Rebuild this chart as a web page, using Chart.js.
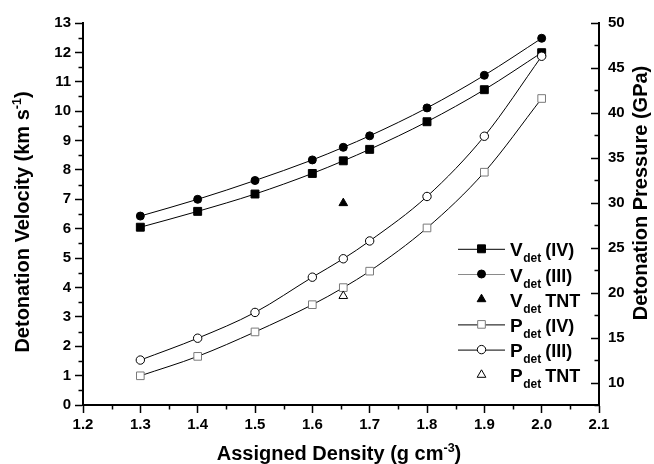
<!DOCTYPE html>
<html>
<head>
<meta charset="utf-8">
<script src="https://cdn.jsdelivr.net/npm/chart.js@4.4.0/dist/chart.umd.min.js"></script>
<style>
  html, body { margin: 0; padding: 0; background: #fff; }
  #wrap { width: 654px; height: 464px; position: relative; }
</style>
</head>
<body>
<div id="wrap"><canvas id="chart"></canvas></div>
<script>
/* values */
const density = [1.3, 1.4, 1.5, 1.6, 1.654, 1.7, 1.8, 1.9, 2.0];
const vdetIV = [6.05, 6.59, 7.18, 7.88, 8.31, 8.70, 9.64, 10.73, 11.99];
const vdetIII = [6.43, 7.0, 7.64, 8.34, 8.77, 9.16, 10.11, 11.22, 12.48];
const pdetIV = [10.75, 12.91, 15.63, 18.66, 20.56, 22.39, 27.2, 33.4, 41.6];
const pdetIII = [12.5, 14.93, 17.8, 21.72, 23.77, 25.75, 30.7, 37.4, 46.3];
const tntDensity = [1.654];
const vdetTNT = [6.87];
const pdetTNT = [19.63];

/* legend texts: letter, subscript, rest */
const legendLabels = [
  ['V', 'det', '(IV)'],
  ['V', 'det', '(III)'],
  ['V', 'det', 'TNT'],
  ['P', 'det', '(IV)'],
  ['P', 'det', '(III)'],
  ['P', 'det', 'TNT']
];

const family = '"Liberation Sans", Arial, Helvetica, sans-serif';
Chart.defaults.font.family = family;
Chart.defaults.font.weight = 'bold';
Chart.defaults.color = '#000';

function pts(xs, ys) {
  return xs.map((x, i) => ({ x, y: ys[i] }));
}

const isMajor = (v, step) => Math.abs(v / step - Math.round(v / step)) < 1e-6;

/* one style per series, reused by the legend */
const styles = [
  { point: 'rect', r: 5.6, fill: '#000', stroke: '#000', line: '#000' },
  { point: 'circle', r: 4, fill: '#000', stroke: '#000', line: '#8a8a8a' },
  { point: 'triangle', r: 5, fill: '#000', stroke: '#000', line: null },
  { point: 'rect', r: 5.4, fill: '#fff', stroke: '#7a7a7a', line: '#000' },
  { point: 'circle', r: 4.2, fill: '#fff', stroke: '#000', line: '#000' },
  { point: 'triangle', r: 5, fill: '#fff', stroke: '#000', line: null }
];

function ds(label, data, axis, s, showLine, order) {
  return {
    label, data, yAxisID: axis, order,
    showLine,
    borderColor: '#000',
    borderWidth: 1,
    cubicInterpolationMode: 'monotone',
    pointStyle: s.point,
    pointRadius: s.r,
    pointHoverRadius: s.r,
    pointBackgroundColor: s.fill,
    pointBorderColor: s.stroke,
    pointBorderWidth: 1
  };
}

function drawMarker(ctx, s, x, y) {
  ctx.save();
  ctx.fillStyle = s.fill;
  ctx.strokeStyle = s.stroke;
  ctx.lineWidth = 1;
  ctx.beginPath();
  if (s.point === 'circle') {
    ctx.arc(x, y, s.r, 0, Math.PI * 2);
  } else if (s.point === 'rect') {
    const h = s.r * Math.SQRT1_2;
    ctx.rect(x - h, y - h, 2 * h, 2 * h);
  } else {
    for (let k = 0; k < 3; k++) {
      const a = k * 2 * Math.PI / 3;
      const px = x + Math.sin(a) * s.r, py = y - Math.cos(a) * s.r;
      k ? ctx.lineTo(px, py) : ctx.moveTo(px, py);
    }
    ctx.closePath();
  }
  ctx.fill();
  ctx.stroke();
  ctx.restore();
}

/* text with super/subscripts, centred on cx */
function richText(ctx, parts, cx, by) {
  let w = 0;
  parts.forEach(p => { ctx.font = `bold ${p.size}px ${family}`; p.w = ctx.measureText(p.t).width; w += p.w; });
  let x = cx - w / 2;
  ctx.textBaseline = 'alphabetic';
  ctx.textAlign = 'left';
  parts.forEach(p => {
    ctx.font = `bold ${p.size}px ${family}`;
    ctx.fillText(p.t, x, by + (p.dy || 0));
    x += p.w;
  });
}

const extras = {
  id: 'extras',
  afterDraw(chart) {
    const ctx = chart.ctx;
    ctx.save();
    ctx.fillStyle = '#000';

    /* minor ticks, and the inward ticks of the right axis */
    ctx.strokeStyle = '#000';
    ctx.lineWidth = 1.5;
    const sx = chart.scales.x, sy = chart.scales.y, sy1 = chart.scales.y1;
    const a = chart.chartArea;
    ctx.beginPath();
    sx.ticks.forEach(t => {
      if (isMajor(t.value, 0.1)) return;
      const px = Math.round(sx.getPixelForValue(t.value)) + 0.5;
      ctx.moveTo(px, a.bottom); ctx.lineTo(px, a.bottom + 4.5);
    });
    sy.ticks.forEach(t => {
      if (isMajor(t.value, 1)) return;
      const py = Math.round(sy.getPixelForValue(t.value)) + 0.5;
      ctx.moveTo(a.left, py); ctx.lineTo(a.left - 4.5, py);
    });
    sy1.ticks.forEach(t => {
      const len = isMajor(t.value, 5) ? 8 : 4.5;
      const py = Math.round(sy1.getPixelForValue(t.value)) + 0.5;
      ctx.moveTo(a.right, py); ctx.lineTo(a.right - len, py);
    });
    ctx.stroke();

    /* axis titles */
    richText(ctx, [
      { t: 'Assigned Density (g cm', size: 20 },
      { t: '-3', size: 12.5, dy: -8.5 },
      { t: ')', size: 20 }
    ], 339, 460);

    ctx.save();
    ctx.translate(29, 222);
    ctx.rotate(-Math.PI / 2);
    richText(ctx, [
      { t: 'Detonation Velocity (km s', size: 20 },
      { t: '-1', size: 12.5, dy: -8.5 },
      { t: ')', size: 20 }
    ], 0, 0);
    ctx.restore();

    ctx.save();
    ctx.translate(647, 193);
    ctx.rotate(-Math.PI / 2);
    richText(ctx, [{ t: 'Detonation Pressure (GPa)', size: 20 }], 0, 0);
    ctx.restore();

    /* legend */
    legendLabels.forEach((lab, i) => {
      const s = styles[i];
      const y = 248.8 + i * 25.2;
      if (s.line) {
        ctx.strokeStyle = s.line;
        ctx.lineWidth = 1;
        ctx.beginPath();
        ctx.moveTo(458, y + 0.5); ctx.lineTo(505, y + 0.5);
        ctx.stroke();
      }
      drawMarker(ctx, s, 481.5, y);
      ctx.fillStyle = '#000';
      ctx.textAlign = 'left';
      ctx.textBaseline = 'alphabetic';
      let x = 510;
      ctx.font = `bold 19px ${family}`;
      ctx.fillText(lab[0], x, y + 7.5);
      x += ctx.measureText(lab[0]).width + 0.5;
      ctx.font = `bold 12px ${family}`;
      ctx.fillText(lab[1], x, y + 13.5);
      x += ctx.measureText(lab[1]).width + 4;
      ctx.font = `bold 18px ${family}`;
      ctx.fillText(lab[2], x, y + 7.5);
    });
    ctx.restore();
  }
};

const tickGrid = step => ({
  drawOnChartArea: false,
  drawTicks: true,
  tickLength: 8,
  tickWidth: 1.5,
  tickColor: c => isMajor(c.tick.value, step) ? '#000' : 'rgba(0,0,0,0)'
});

new Chart(document.getElementById('chart'), {
  type: 'scatter',
  data: {
    datasets: [
      ds('Vdet (IV)', pts(density, vdetIV), 'y', styles[0], true, 3),
      ds('Vdet (III)', pts(density, vdetIII), 'y', styles[1], true, 2),
      ds('Vdet TNT', pts(tntDensity, vdetTNT), 'y', styles[2], false, 1),
      ds('Pdet (IV)', pts(density, pdetIV), 'y1', styles[3], true, 1),
      ds('Pdet (III)', pts(density, pdetIII), 'y1', styles[4], true, 0),
      ds('Pdet TNT', pts(tntDensity, pdetTNT), 'y1', styles[5], false, 0)
    ]
  },
  options: {
    responsive: true,
    maintainAspectRatio: false,
    animation: false,
    layout: { padding: { top: 23, left: 0, right: 0, bottom: 0 } },
    plugins: { legend: { display: false }, tooltip: { enabled: false } },
    scales: {
      x: {
        type: 'linear',
        min: 1.2, max: 2.1,
        afterFit: s => { s.height = 59; },
        border: { display: true, color: '#000', width: 2 },
        grid: tickGrid(0.1),
        ticks: {
          stepSize: 0.05,
          autoSkip: false,
          maxRotation: 0,
          padding: 3,
          font: { size: 15, weight: 'bold' },
          callback: v => isMajor(v, 0.1) ? v.toFixed(1) : ''
        }
      },
      y: {
        type: 'linear',
        position: 'left',
        min: 0, max: 13,
        afterFit: s => { s.width = 83; },
        border: { display: true, color: '#000', width: 2 },
        grid: tickGrid(1),
        ticks: {
          stepSize: 0.5,
          autoSkip: false,
          padding: 4,
          font: { size: 15, weight: 'bold' },
          callback: v => isMajor(v, 1) ? String(Math.round(v)) : ''
        }
      },
      y1: {
        type: 'linear',
        position: 'right',
        min: 7.5, max: 50,
        afterFit: s => { s.width = 55; },
        border: { display: true, color: '#000', width: 2 },
        grid: { drawOnChartArea: false, drawTicks: false },
        ticks: {
          stepSize: 2.5,
          autoSkip: false,
          padding: 9,
          font: { size: 15, weight: 'bold' },
          callback: v => isMajor(v, 5) ? String(Math.round(v)) : ''
        }
      }
    }
  },
  plugins: [extras]
});
</script>
</body>
</html>
